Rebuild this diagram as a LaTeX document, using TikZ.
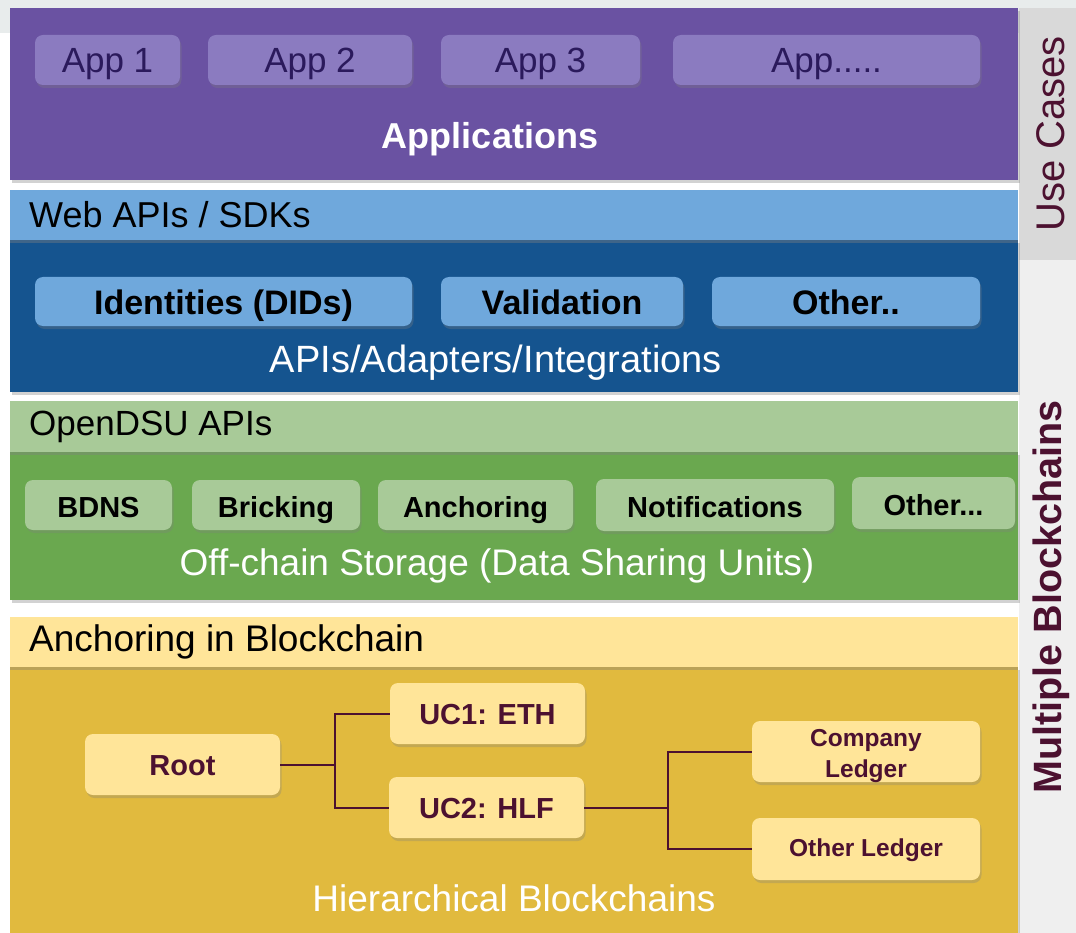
\documentclass[tikz,border=0pt]{standalone}
\usepackage{fontspec}
\setmainfont{Liberation Sans}
\usetikzlibrary{shadows}
\definecolor{topgray}{HTML}{E8ECEC}
\definecolor{purp}{HTML}{6A52A2}
\definecolor{apbox}{HTML}{8B7BC0}
\definecolor{aptext}{HTML}{2B1A5C}
\definecolor{lblue}{HTML}{6FA8DC}
\definecolor{dblue}{HTML}{15548F}
\definecolor{lgreen}{HTML}{A8CA98}
\definecolor{dgreen}{HTML}{6AA84F}
\definecolor{lyellow}{HTML}{FFE599}
\definecolor{dyellow}{HTML}{E1BA3E}
\definecolor{maroon}{HTML}{4C1130}
\definecolor{panelA}{HTML}{D9D9D9}
\definecolor{panelB}{HTML}{EFEFEF}
\tikzset{
  layer/.style={draw=none, rectangle, inner sep=0pt, drop shadow={shadow xshift=1.5pt, shadow yshift=-3pt, opacity=0.35}},
  bar/.style={draw=none, rectangle, inner sep=0pt, drop shadow={shadow xshift=0pt, shadow yshift=-3pt, opacity=0.4}},
  box/.style={draw=none, rectangle, rounded corners=8pt, inner sep=0pt, align=center,
     drop shadow={shadow xshift=1.5pt, shadow yshift=-3pt, opacity=0.3}},
  appb/.style={box, text height=28pt, text depth=3pt, fill=apbox, text=aptext, font=\fontsize{35}{40}\selectfont},
  blueb/.style={box, text height=29pt, text depth=3pt, fill=lblue, text=black, font=\bfseries\fontsize{34}{38}\selectfont},
  greenb/.style={box, text height=28pt, text depth=3pt, fill=lgreen, text=black, font=\bfseries\fontsize{29}{34}\selectfont},
  yelb/.style={box, text height=25.5pt, text depth=3pt, fill=lyellow, text=maroon, font=\bfseries\fontsize{29}{34}\selectfont, minimum width=195pt, minimum height=61pt},
  ledb/.style={box, fill=lyellow, minimum width=228pt},
  ledt/.style={inner sep=0pt, align=center, text=maroon, font=\bfseries\fontsize{24.5}{31}\selectfont},
  hdr/.style={anchor=west, inner sep=0pt, text=black, font=\fontsize{35}{40}\selectfont},
  ttl/.style={inner sep=0pt, text=white, font=\fontsize{37}{42}\selectfont},
  side/.style={inner sep=0pt, text=maroon, rotate=90},
  conn/.style={draw=maroon, line width=2pt},
}
\begin{document}
\begin{tikzpicture}[x=1pt,y=-1pt]
\useasboundingbox (0,0) rectangle (1076,933);
\fill[white] (0,0) rectangle (1076,933);
\fill[topgray] (0,0) rectangle (1076,33);
% side panels
\fill[panelB] (1019,8) rectangle (1076,933);
\fill[panelA] (1019,8) rectangle (1076,260);
\node[side, font=\fontsize{40}{44}\selectfont] (usecases) at (1051,134) {Use Cases};
\node[side, font=\bfseries\fontsize{39.5}{44}\selectfont] (multi) at (1051,597) {Multiple Blockchains};

% Applications layer
\node[layer, fill=purp, minimum width=1008pt, minimum height=172pt] (apps) at (514,94) {};
\node[appb, minimum width=145pt, minimum height=50pt] (app1) at (107.5,60) {App 1};
\node[appb, minimum width=204pt, minimum height=50pt] (app2) at (310,60) {App 2};
\node[appb, minimum width=199pt, minimum height=50pt] (app3) at (540.5,60) {App 3};
\node[appb, minimum width=307pt, minimum height=50pt] (app4) at (826.5,60) {App.....};
\node[ttl, font=\bfseries\fontsize{36}{42}\selectfont] (appl) at (490,139) {Applications};

% Web APIs layer
\node[layer, fill=dblue, minimum width=1008pt, minimum height=152pt] (apis) at (514,316) {};
\node[bar, fill=lblue, minimum width=1008pt, minimum height=50pt] (webbar) at (514,215) {};
\node[hdr, font=\fontsize{36}{40}\selectfont] (webt) at (29,215) {Web APIs / SDKs};
\node[blueb, minimum width=377pt, minimum height=49pt] (ids) at (223.5,301.5) {Identities (DIDs)};
\node[blueb, minimum width=242pt, minimum height=49pt] (valid) at (562,301.5) {Validation};
\node[blueb, minimum width=268pt, minimum height=49pt] (oth1) at (846,301.5) {Other..};
\node[ttl, font=\fontsize{38}{42}\selectfont] (apit) at (496,363) {APIs/Adapters/Integrations};

% OpenDSU layer
\node[layer, fill=dgreen, minimum width=1008pt, minimum height=148pt] (dsu) at (514,526) {};
\node[bar, fill=lgreen, minimum width=1008pt, minimum height=51pt] (dsubar) at (514,426.5) {};
\node[hdr] (dsut) at (29,427) {OpenDSU APIs};
\node[greenb, minimum width=147pt, minimum height=50pt] (bdns) at (98.5,505) {BDNS};
\node[greenb, minimum width=168pt, minimum height=50pt] (brick) at (276,505) {Bricking};
\node[greenb, minimum width=195pt, minimum height=50pt] (anch) at (475.5,505) {Anchoring};
\node[greenb, minimum width=238pt, minimum height=52pt] (notif) at (715,505) {Notifications};
\node[greenb, minimum width=163pt, minimum height=52pt] (oth2) at (933.5,503) {Other...};
\node[ttl] (offt) at (497,566) {Off-chain Storage (Data Sharing Units)};

% Blockchain layer
\node[layer, fill=dyellow, minimum width=1008pt, minimum height=266pt] (bc) at (514,800) {};
\node[bar, fill=lyellow, minimum width=1008pt, minimum height=50pt] (bcbar) at (514,642) {};
\node[hdr, font=\fontsize{37}{42}\selectfont] (bct) at (29,642) {Anchoring in Blockchain};
\node[yelb] (root) at (182.5,764.5) {Root};
\node[yelb] (uc1) at (487.5,713.5) {UC1: ETH};
\node[yelb] (uc2) at (486.5,807.5) {UC2: HLF};
\node[ledb, minimum height=61pt] (comp) at (866,751.5) {};
\node[ledt] (compt) at ([yshift=-5pt]comp.center) {Company\\Ledger};
\node[ledb, minimum height=62pt] (othl) at (866,849) {};
\node[ledt] (othlt) at ([yshift=-1pt]othl.center) {Other Ledger};
\draw[conn] (root.east) -- ++(55,0) |- (uc1.west);
\draw[conn] (root.east) -- ++(55,0) |- (uc2.west);
\draw[conn] (uc2.east) -- ++(84,0) |- (comp.west);
\draw[conn] (uc2.east) -- ++(84,0) |- (othl.west);
\node[ttl] (hier) at (514,898) {Hierarchical Blockchains};
\end{tikzpicture}
\end{document}
